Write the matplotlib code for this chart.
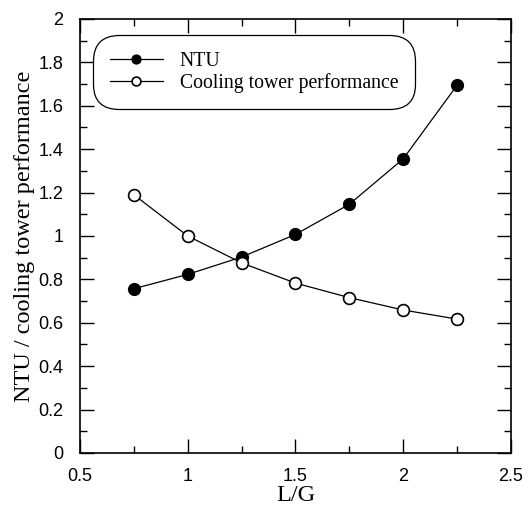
import matplotlib.pyplot as plt
from matplotlib.ticker import MultipleLocator, FormatStrFormatter

lg = [0.75, 1.0, 1.25, 1.5, 1.75, 2.0, 2.25]
ntu = [0.757, 0.823, 0.903, 1.007, 1.146, 1.355, 1.694]
perf = [1.19, 1.0, 0.876, 0.783, 0.716, 0.659, 0.617]

serif = 'Liberation Serif'
sans = 'Liberation Sans'

fig = plt.figure(figsize=(5.28, 5.13), dpi=100)
ax = fig.add_axes([0.1515, 0.117, 0.816, 0.846])

ax.plot(lg, ntu, '-o', color='black', lw=0.9, ms=8.5, mfc='black', label='NTU')
ax.plot(lg, perf, '-o', color='black', lw=0.9, ms=8.5, mfc='white', mew=1.2,
        label='Cooling tower performance')

ax.set_xlim(0.5, 2.5)
ax.set_ylim(0, 2)
ax.xaxis.set_major_locator(MultipleLocator(0.5))
ax.xaxis.set_minor_locator(MultipleLocator(0.25))
ax.yaxis.set_major_locator(MultipleLocator(0.2))
ax.yaxis.set_minor_locator(MultipleLocator(0.1))
ax.xaxis.set_major_formatter(FormatStrFormatter('%g'))
ax.yaxis.set_major_formatter(FormatStrFormatter('%g'))
ax.tick_params(which='both', direction='in', top=True, right=True, width=1)
ax.tick_params(which='major', length=10, labelsize=13)
ax.tick_params(axis='y', which='major', pad=12)
ax.tick_params(axis='x', which='major', pad=11)
ax.tick_params(which='minor', length=5)
for t in ax.get_xticklabels() + ax.get_yticklabels():
    t.set_fontfamily(sans)
for s in ax.spines.values():
    s.set_linewidth(1.2)

ax.set_xlabel('L/G', fontfamily=serif, fontsize=17.5, labelpad=0)
ax.set_ylabel('NTU / cooling tower performance', fontfamily=serif, fontsize=17.5, labelpad=2)

leg = ax.legend(loc='upper left', bbox_to_anchor=(0.03, 0.963), borderaxespad=0,
                prop={'family': serif, 'size': 14.2}, markerscale=0.75,
                frameon=True, fancybox=True, edgecolor='black', framealpha=1,
                handlelength=2.7, handletextpad=0.85, borderpad=0.85, labelspacing=0.1)
leg.get_frame().set_linewidth(0.9)
leg.get_frame().set_boxstyle('round,pad=0,rounding_size=1.3')

plt.savefig('out.png', dpi=100)
